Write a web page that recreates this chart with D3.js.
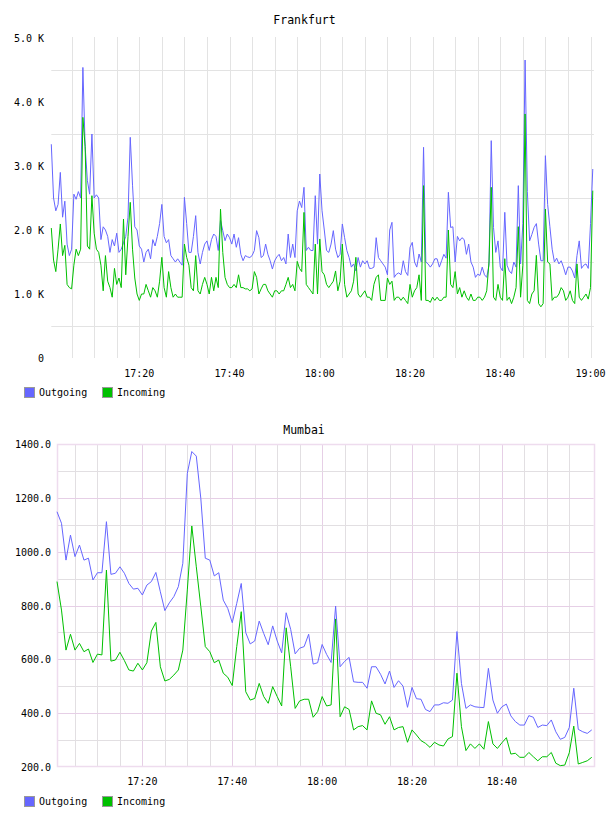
<!DOCTYPE html>
<html><head><meta charset="utf-8">
<script src="https://cdn.jsdelivr.net/npm/d3@7"></script>
<style>body{margin:0;background:#fff} text{font-family:"DejaVu Sans Mono",monospace;fill:#000}</style>
</head><body><svg id="c" width="608" height="816"></svg>
<script>
// ---------- DATA ----------
const seriesNames = ["Outgoing", "Incoming"];
const seriesColors = ["#6666ff", "#00c000"];

// Frankfurt: 30 s samples starting 17:00:30
const frankfurtStart = [17, 0, 30];
const frankfurtStepSec = 30;
const frankfurtOutgoing = [
3340,2500,2300,2400,2900,2200,2450,1780,1600,1700,
2560,2480,2600,2500,4540,3300,2770,2560,3500,2500,
2550,2500,1850,2050,2000,1900,1650,1850,1750,1950,
1650,1700,1800,1900,2200,3448,2700,2050,2000,1750,
1700,1500,1650,1700,1550,1850,1750,1900,2100,2400,
1900,1800,1850,1600,1550,1500,1550,1500,1450,2510,
2100,1650,1650,1900,2224,1650,
1469,1650,1780,1830,1680,1850,1937,1900,1680,2150,
1990,1833,1937,1880,1780,1937,1730,1880,1620,1520,
1600,1580,1570,1600,1680,1990,1880,1570,1600,1780,
1620,1520,1390,1520,1580,1620,1520,1570,1470,1937,
1570,1780,1570,2300,2453,2350,2667,1680,1730,1680,
1680,2536,1780,2875,2300,2000,1680,1650,1780,1990,
1700,1570,1620,2094,1880,1680,1570,1420,1470,1360,
1570,1420,1520,1470,1520,1400,1400,1420,1880,1570,
1520,1470,1420,1300,2000,2120,1260,1310,1330,
1300,1520,1350,1290,1729,1807,1500,1420,1625,1500,
3292,1500,1470,1420,1470,1550,1550,1420,1520,1620,
1560,2589,2040,2050,1500,1900,1830,1880,1850,1620,
1780,1500,1420,1260,1310,1290,1420,1300,1260,1450,
3396,2040,1650,1830,1420,1360,2276,1450,1360,1320,
1500,1420,2693,1470,2100,4656,2600,1830,1930,2040,
2100,1780,1520,1520,3161,2400,2050,1700,1500,1560,
1470,1520,1420,1300,1420,1420,1360,1250,1600,1830,
1400,1450,1470,1400,2100,2953];
const frankfurtIncoming = [
2031,1530,1350,1700,2094,1600,1760,1150,1100,1080,
1450,1700,1600,1700,3760,3300,1750,1700,2536,1950,
1700,1650,1450,1050,1600,1200,1100,950,1400,1150,
1250,1100,2172,1300,1900,2432,1700,1250,1000,900,
1000,1000,1150,1050,950,1100,1050,950,1200,1573,
1100,950,1350,1100,950,1000,950,950,950,1781,
1573,1450,1100,1050,1600,1050,
1000,1150,1260,1150,1000,1260,1050,1260,1100,2328,
1650,1260,1150,1100,1100,1150,1100,1300,1100,1100,
1080,1080,1050,1080,1350,1260,1000,1080,1150,1150,
1050,1000,950,1050,1050,1000,1050,1050,1150,1260,
1100,1150,1050,1510,1400,1350,2275,1150,1100,1050,
1000,1780,1000,1860,1350,1300,1150,1100,1150,1200,
1360,1050,1200,1780,1150,950,1000,1050,1200,1573,
1000,950,1000,1050,950,950,900,1150,1260,1300,
900,900,900,1250,1150,1200,900,950,950,
900,950,900,850,1150,950,1050,1100,1300,900,
2693,900,900,870,950,900,950,900,900,950,
950,2000,1150,1100,1350,1000,1100,950,1050,950,
900,1000,900,900,950,950,900,950,1050,1500,
2667,950,900,1150,950,900,1552,900,950,850,
950,1100,2052,950,1450,3813,900,850,1000,1050,
1604,850,800,850,2328,1500,1470,900,950,950,
1000,1100,1050,900,950,1050,900,850,1470,950,
900,950,1000,920,1100,2615];
const frankfurtYTicks = [0,1000,2000,3000,4000,5000];
const frankfurtYGrid = [500,1500,2500,3500,4500];
const frankfurtXLabels = ["17:20","17:40","18:00","18:20","18:40","19:00"];

// Mumbai: 1 min samples starting 17:01
const mumbaiStart = [17, 1, 0];
const mumbaiStepSec = 60;
const mumbaiOutgoing = [
1149,1106,969,1062,982,1025,969,976,895,922,
922,1112,916,920,944,920,882,861,864,839,
876,889,923,851,781,810,833,870,957,1292,
1373,1356,1199,976,969,910,922,820,789,736,
808,882,699,657,668,742,696,654,724,668,
624,773,711,620,641,647,693,582,587,655,
618,588,798,572,592,607,516,514,514,492,
572,572,544,508,556,495,520,500,421,495,
453,451,413,405,430,430,438,436,448,703,
510,417,430,423,421,420,566,448,399,423,
433,389,368,355,355,390,384,346,355,353,
374,330,302,309,346,492,339,330,324,337];
const mumbaiIncoming = [
889,783,634,693,634,659,628,638,588,619,
616,932,593,597,626,595,560,556,585,560,
587,705,737,572,519,525,541,560,634,858,
1096,944,796,647,628,587,597,548,533,502,
647,777,479,448,454,510,461,436,498,461,
426,717,572,417,445,451,451,384,405,461,
426,430,750,386,423,413,337,349,353,337,
445,399,393,358,386,337,346,349,291,337,
318,297,287,272,291,281,277,303,312,548,
349,260,285,268,285,265,368,285,268,289,
308,247,250,235,235,253,237,222,237,237,
253,213,204,206,252,351,210,216,222,235];
const mumbaiYTicks = [200,400,600,800,1000,1200,1400];
const mumbaiYMinor = [300,500,700,900,1100,1300];
const mumbaiXLabels = ["17:20","17:40","18:00","18:20","18:40"];

// ---------- DRAW ----------
const T = (h,m,s) => new Date(2020,0,1,h,m,s||0);
const parseHM = s => { const [h,m] = s.split(":").map(Number); return T(h,m,0); };
const svg = d3.select("#c");

function series(start, step, vals){
  const t0 = T(...start).getTime();
  return vals.map((v,i)=>({t:new Date(t0+i*step*1000), v}));
}

// ===== Frankfurt =====
(function(){
  const g = svg.append("g");
  const x = d3.scaleTime().domain([T(17,0,30), T(19,0,45)]).range([51.3, 593.9]);
  const y = d3.scaleLinear().domain([0,5000]).range([358,38]);
  const [x0,x1] = x.range();
  const grid = "#e3e3e3";
  const vt = d3.timeMinute.every(5).range(T(17,1), T(19,0,1));
  g.selectAll(".vg").data(vt).join("line")
    .attr("x1",d=>Math.round(x(d))+0.5).attr("x2",d=>Math.round(x(d))+0.5)
    .attr("y1",y(5000)-1).attr("y2",y(0)).attr("stroke",grid);
  g.selectAll(".hg").data(frankfurtYGrid).join("line")
    .attr("x1",x0).attr("x2",x1)
    .attr("y1",d=>Math.round(y(d))+0.5).attr("y2",d=>Math.round(y(d))+0.5).attr("stroke",grid);
  g.selectAll(".yl").data(frankfurtYTicks).join("text")
    .attr("x",44).attr("y",d=>y(d)+4).attr("text-anchor","end").attr("font-size",10)
    .text(d=>d===0?"0":(d/1000).toFixed(1)+" K");
  g.selectAll(".xl").data(frankfurtXLabels).join("text")
    .attr("x",d=>x(parseHM(d))).attr("y",377).attr("text-anchor","middle").attr("font-size",10)
    .text(d=>d);
  const line = d3.line().x(d=>x(d.t)).y(d=>y(d.v));
  [frankfurtOutgoing, frankfurtIncoming].forEach((vals,k)=>{
    g.append("path").datum(series(frankfurtStart, frankfurtStepSec, vals))
      .attr("d",line).attr("fill","none").attr("stroke",seriesColors[k]).attr("stroke-width",1);
  });
  g.append("text").attr("x",304.5).attr("y",24).attr("text-anchor","middle").attr("font-size",11.5).text("Frankfurt");
  legend(g, 387);
})();

// ===== Mumbai =====
(function(){
  const g = svg.append("g");
  const x = d3.scaleTime().domain([T(17,1,0), T(19,0,26)]).range([57, 593.7]);
  const y = d3.scaleLinear().domain([200,1400]).range([766.7,444.3]);
  const [x0,x1] = x.range();
  const minor = "#e2dfe2", major = "#e6cfe6";
  const vt = d3.timeMinute.every(5).range(T(17,5), T(19,0));
  g.selectAll(".vg").data(vt).join("line")
    .attr("x1",d=>Math.round(x(d))+0.5).attr("x2",d=>Math.round(x(d))+0.5)
    .attr("y1",y(1400)).attr("y2",y(200))
    .attr("stroke",d=>d.getMinutes()%20===0?major:minor);
  g.selectAll(".hm").data(mumbaiYMinor).join("line")
    .attr("x1",x0).attr("x2",x1)
    .attr("y1",d=>Math.round(y(d))+0.5).attr("y2",d=>Math.round(y(d))+0.5).attr("stroke",minor);
  g.selectAll(".hM").data(mumbaiYTicks.slice(1,-1)).join("line")
    .attr("x1",x0).attr("x2",x1)
    .attr("y1",d=>Math.round(y(d))+0.5).attr("y2",d=>Math.round(y(d))+0.5).attr("stroke",major);
  g.append("rect").attr("x",Math.round(x0)+0.5).attr("y",Math.round(y(1400))+0.5)
    .attr("width",Math.round(x1-x0)).attr("height",Math.round(y(200)-y(1400)))
    .attr("fill","none").attr("stroke","#eedcee").attr("stroke-width",1.5);
  g.selectAll(".yl").data(mumbaiYTicks).join("text")
    .attr("x",51).attr("y",d=>y(d)+4).attr("text-anchor","end").attr("font-size",10)
    .text(d=>d.toFixed(1));
  g.selectAll(".xl").data(mumbaiXLabels).join("text")
    .attr("x",d=>x(parseHM(d))).attr("y",785).attr("text-anchor","middle").attr("font-size",10)
    .text(d=>d);
  const line = d3.line().x(d=>x(d.t)).y(d=>y(d.v));
  [mumbaiOutgoing, mumbaiIncoming].forEach((vals,k)=>{
    g.append("path").datum(series(mumbaiStart, mumbaiStepSec, vals))
      .attr("d",line).attr("fill","none").attr("stroke",seriesColors[k]).attr("stroke-width",1);
  });
  g.append("text").attr("x",304).attr("y",434).attr("text-anchor","middle").attr("font-size",11.5).text("Mumbai");
  legend(g, 796);
})();

function legend(g, top){
  const items = [{x:24},{x:102}];
  items.forEach((it,k)=>{
    g.append("rect").attr("x",it.x+0.5).attr("y",top+0.5).attr("width",10).attr("height",10)
      .attr("fill",seriesColors[k]).attr("stroke","#999");
    g.append("text").attr("x",it.x+15).attr("y",top+9).attr("font-size",10).text(seriesNames[k]);
  });
}
</script></body></html>
